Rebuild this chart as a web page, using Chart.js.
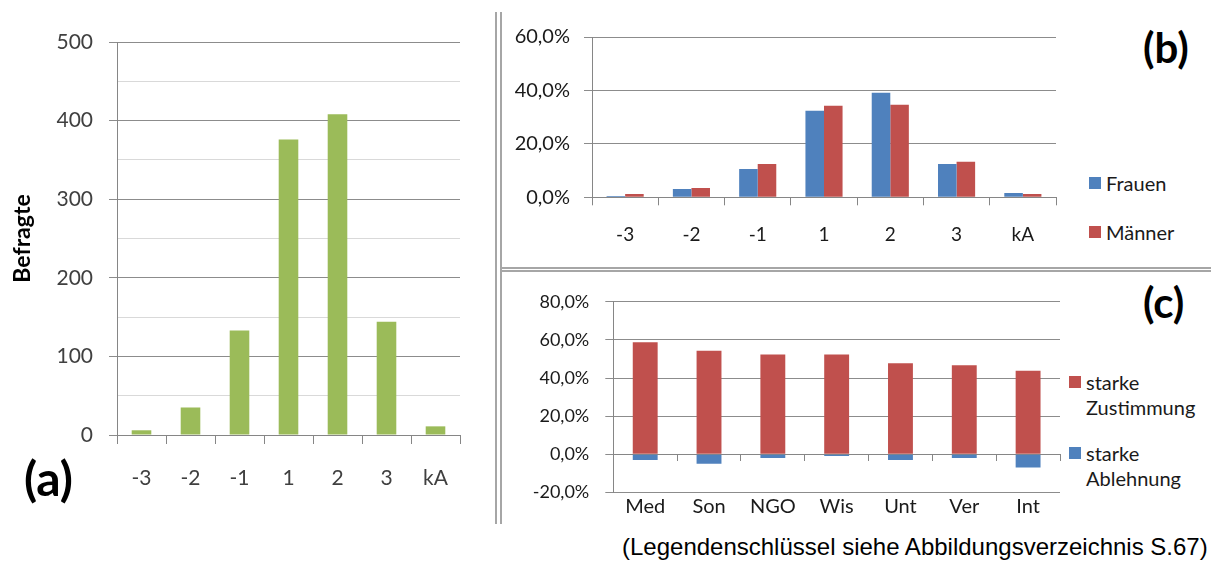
<!DOCTYPE html>
<html>
<head>
<meta charset="utf-8">
<script src="https://cdn.jsdelivr.net/npm/chart.js@4/dist/chart.umd.min.js"></script>
<style>
    body { margin: 0; background: #fff; width: 1211px; height: 561px; position: relative; overflow: hidden; font-family: Lato, sans-serif; }
    .pane { position: absolute; }
    .rule { position: absolute; background: #a6a6a6; }
    .tag { position: absolute; font-family: Lato, sans-serif; font-weight: bold; color: #000; line-height: 1; }
    .legend { position: absolute; font: 20px Lato, sans-serif; color: #1a1a1a; }
    .legend .item { position: absolute; left: 0; white-space: nowrap; }
    .legend .sw { position: absolute; left: 0; width: 12px; height: 12px; }
    .legend .txt { position: absolute; left: 17px; line-height: 25px; }
    .note { position: absolute; left: 622px; top: 533px; font: 24px "Liberation Sans", Arial, sans-serif; color: #000; white-space: nowrap; }
</style>
</head>
<body>
<div class="pane" style="left:0;top:0;width:480px;height:520px"><canvas id="chartAnswers"></canvas></div>
<div class="pane" style="left:505px;top:0;width:560px;height:262px"><canvas id="chartGender"></canvas></div>
<div class="pane" style="left:505px;top:275px;width:560px;height:245px"><canvas id="chartGroups"></canvas></div>

<div class="rule" style="left:495px;top:12px;width:2px;height:512px"></div>
<div class="rule" style="left:500px;top:12px;width:2px;height:512px"></div>
<div class="rule" style="left:502px;top:267px;width:709px;height:2px"></div>
<div class="rule" style="left:502px;top:270px;width:709px;height:2px"></div>

<div class="tag" style="left:24px;top:454px;font-size:48px">(a)</div>
<div class="tag" style="left:1143px;top:26px;font-size:42px">(b)</div>
<div class="tag" style="left:1143px;top:281px;font-size:42px">(c)</div>

<div class="legend" id="legendGender" style="left:1089px;top:0"></div>
<div class="legend" id="legendGroups" style="left:1069px;top:0"></div>

<div class="note">(Legendenschlüssel siehe Abbildungsverzeichnis S.67)</div>

<script>
const answerLabels = ['-3', '-2', '-1', '1', '2', '3', 'kA'];
const respondents = [6, 35, 133, 376, 408, 144, 11];

const genderNames = ['Frauen', 'Männer'];
const womenShare = [0.5, 3.1, 10.6, 32.4, 39.1, 12.5, 1.6];
const menShare = [1.25, 3.5, 12.5, 34.3, 34.6, 13.3, 1.25];

const groupLabels = ['Med', 'Son', 'NGO', 'Wis', 'Unt', 'Ver', 'Int'];
const stanceNames = ['starke\nZustimmung', 'starke\nAblehnung'];
const strongAgree = [58.8, 54.3, 52.3, 52.3, 47.8, 46.7, 43.8];
const strongReject = [-3.0, -5.0, -2.0, -1.0, -3.0, -2.0, -7.0];

const palette = {
    green: '#9BBB59',
    blue: '#4F81BD',
    red: '#C0504D',
    axis: '#868686',
    major: '#8c8c8c',
    minor: '#d9d9d9',
};

Chart.defaults.font.family = 'Lato, sans-serif';
Chart.defaults.animation = false;
Chart.defaults.devicePixelRatio = 1;

const pct = (v) => v.toFixed(1).replace('.', ',') + '%';

function yGrid(majorStep) {
    return {
        color: (c) => (c.tick && Math.round(c.tick.value) % majorStep === 0 ? palette.major : palette.minor),
        tickColor: (c) => (c.tick && Math.round(c.tick.value) % majorStep === 0 ? palette.major : 'rgba(0,0,0,0)'),
        tickLength: 8,
        lineWidth: 1,
    };
}

function categoryTicksGrid(len) {
    return {
        offset: true,
        drawOnChartArea: false,
        color: palette.axis,
        tickLength: len,
    };
}

// (a) Befragte je Antwort
new Chart(document.getElementById('chartAnswers'), {
    type: 'bar',
    data: {
        labels: answerLabels,
        datasets: [{ data: respondents, backgroundColor: palette.green, barPercentage: 0.4, categoryPercentage: 1 }],
    },
    options: {
        responsive: true,
        maintainAspectRatio: false,
        layout: { padding: { top: 42, right: 20, left: 0, bottom: 0 } },
        plugins: { legend: { display: false }, tooltip: { enabled: false } },
        scales: {
            x: {
                grid: categoryTicksGrid(9),
                border: { color: palette.axis },
                ticks: { color: '#404040', font: { size: 21 }, padding: 22 },
                afterFit: (s) => { s.height = 85; },
            },
            y: {
                min: 0,
                max: 500,
                grid: yGrid(100),
                border: { color: palette.axis },
                ticks: {
                    stepSize: 50,
                    color: '#404040',
                    font: { size: 21 },
                    padding: 16,
                    callback: (v) => (v % 100 === 0 ? v : ''),
                },
                title: { display: true, text: 'Befragte', color: '#000', font: { size: 23, weight: 'bold' }, padding: { top: 9 } },
                afterFit: (s) => { s.width = 117; },
            },
        },
    },
});

// (b) Frauen / Männer
const genderChart = new Chart(document.getElementById('chartGender'), {
    type: 'bar',
    data: {
        labels: answerLabels,
        datasets: [
            { label: genderNames[0], data: womenShare, backgroundColor: palette.blue, barPercentage: 1, categoryPercentage: 0.56 },
            { label: genderNames[1], data: menShare, backgroundColor: palette.red, barPercentage: 1, categoryPercentage: 0.56 },
        ],
    },
    options: {
        responsive: true,
        maintainAspectRatio: false,
        layout: { padding: { top: 37, right: 9, left: 0, bottom: 0 } },
        plugins: { legend: { display: false }, tooltip: { enabled: false } },
        scales: {
            x: {
                grid: categoryTicksGrid(8),
                border: { color: palette.axis },
                ticks: { color: '#1a1a1a', font: { size: 19 }, padding: 18 },
                afterFit: (s) => { s.height = 64.7; },
            },
            y: {
                min: 0,
                max: 60,
                grid: yGrid(20),
                border: { color: palette.axis },
                ticks: {
                    stepSize: 10,
                    color: '#1a1a1a',
                    font: { size: 20 },
                    padding: 14,
                    callback: (v) => (v % 20 === 0 ? pct(v) : ''),
                },
                afterFit: (s) => { s.width = 87; },
            },
        },
    },
});

// (c) Zustimmung / Ablehnung je Gruppe
const groupChart = new Chart(document.getElementById('chartGroups'), {
    type: 'bar',
    data: {
        labels: groupLabels,
        datasets: [
            { label: stanceNames[0], data: strongAgree, backgroundColor: palette.red, barPercentage: 0.39, categoryPercentage: 1 },
            { label: stanceNames[1], data: strongReject, backgroundColor: palette.blue, barPercentage: 0.39, categoryPercentage: 1 },
        ],
    },
    options: {
        responsive: true,
        maintainAspectRatio: false,
        layout: { padding: { top: 18.3, right: 5, left: 0, bottom: 0 } },
        plugins: { legend: { display: false }, tooltip: { enabled: false } },
        scales: {
            x: {
                stacked: true,
                position: { y: 0 },
                grid: categoryTicksGrid(6),
                border: { color: palette.axis },
                ticks: { display: false },
                afterFit: (s) => { s.height = 0; },
            },
            xLabels: {
                axis: 'x',
                type: 'category',
                position: 'bottom',
                grid: { display: false, drawTicks: false },
                border: { display: false },
                ticks: { color: '#1a1a1a', font: { size: 20 }, padding: 2 },
                afterFit: (s) => { s.height = 27.7; },
            },
            y: {
                stacked: true,
                min: -20,
                max: 80,
                grid: yGrid(20),
                border: { color: palette.axis },
                ticks: {
                    stepSize: 10,
                    color: '#1a1a1a',
                    font: { size: 18 },
                    padding: 16,
                    callback: (v) => (Math.round(v) % 20 === 0 ? pct(v) : ''),
                },
                afterFit: (s) => { s.width = 108.3; },
            },
        },
    },
});

// legends built from the chart datasets
function buildLegend(chart, el, rows) {
    chart.data.datasets.forEach((ds, i) => {
        const item = document.createElement('div');
        item.className = 'item';
        item.style.top = rows[i] + 'px';
        const sw = document.createElement('div');
        sw.className = 'sw';
        sw.style.background = ds.backgroundColor;
        sw.style.top = '-6px';
        const txt = document.createElement('div');
        txt.className = 'txt';
        txt.style.top = '-12.5px';
        txt.innerHTML = ds.label.split('\n').join('<br>');
        item.appendChild(sw);
        item.appendChild(txt);
        el.appendChild(item);
    });
}

buildLegend(genderChart, document.getElementById('legendGender'), [183, 232]);
buildLegend(groupChart, document.getElementById('legendGroups'), [382, 453]);
</script>
</body>
</html>
